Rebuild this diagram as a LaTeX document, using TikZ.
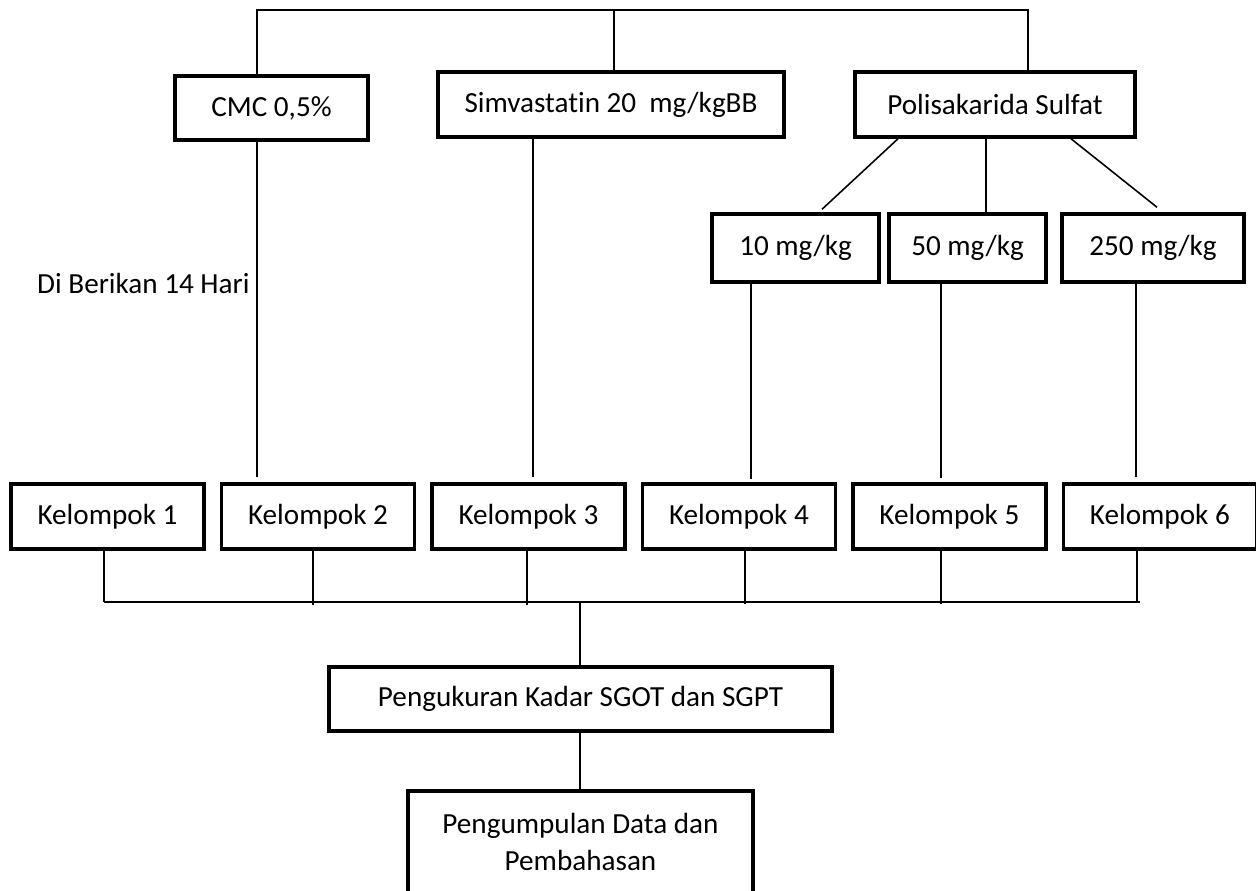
\documentclass[tikz,border=0pt]{standalone}
\usepackage{fontspec}
\setmainfont[Ligatures=NoCommon]{Carlito}
\usetikzlibrary{positioning}

\begin{document}
\begin{tikzpicture}[x=0.02cm, y=-0.02cm,
    box/.style={draw, line width=2pt, minimum height=1.3cm, inner sep=2pt,
        align=center, font=\fontsize{16.6}{21}\selectfont},
    group/.style={box, minimum width=3.86cm},
    link/.style={line width=0.9pt},
]
    \clip (0,0) rectangle (1256,890);

    % Treatments
    \node[box, minimum width=3.86cm, minimum height=1.28cm] (cmc) at (271.5,108) {CMC 0,5\%};
    \node[box, minimum width=6.92cm] (simva) at (611,104.5) {Simvastatin 20\ \ mg/kgBB};
    \node[box, minimum width=5.6cm] (polis) at (995,104.5) {Polisakarida Sulfat};

    \draw[link] (cmc.north -| 257,0) -- (257,10) -| (polis.north -| 1028,0);
    \draw[link] (614,10) -- (simva.north -| 614,0);

    % Doses
    \node[box, minimum width=3.34cm, minimum height=1.36cm] (d10) at (795.5,248) {10 mg/kg};
    \node[box, minimum width=3.14cm, minimum height=1.36cm] (d50) at (967.5,248) {50 mg/kg};
    \node[box, minimum width=3.64cm, minimum height=1.36cm] (d250) at (1153,248) {250 mg/kg};

    \draw[link] (polis.south -| 898,0) -- ([yshift=0.06cm]d10.north -| 822,0);
    \draw[link] (polis.south -| 986,0) -- (d50.north -| 986,0);
    \draw[link] (polis.south -| 1071,0) -- ([yshift=0.1cm]d250.north -| 1157,0);

    \node[anchor=west, font=\fontsize{16.6}{21}\selectfont] (note) at (31,283) {Di Berikan 14 Hari};

    % Groups
    \node[group] (k1) at (107.5,516.5) {Kelompok 1};
    \node[group, right=0.28cm of k1] (k2) {Kelompok 2};
    \node[group, right=0.28cm of k2] (k3) {Kelompok 3};
    \node[group, right=0.28cm of k3] (k4) {Kelompok 4};
    \node[group, right=0.28cm of k4] (k5) {Kelompok 5};
    \node[group, right=0.28cm of k5] (k6) {Kelompok 6};

    \draw[link] (cmc.south -| 257,0) -- ([yshift=0.1cm]k2.north -| 257,0);
    \draw[link] (simva.south -| 533,0) -- ([yshift=0.1cm]k3.north -| 533,0);
    \draw[link] (d10.south -| 751,0) -- ([yshift=0.06cm]k4.north -| 751,0);
    \draw[link] (d50.south -| 941,0) -- ([yshift=0.08cm]k5.north -| 941,0);
    \draw[link] (d250.south -| 1136,0) -- ([yshift=0.1cm]k6.north -| 1136,0);

    % Collect
    \coordinate (barL) at (104,602);
    \coordinate (barR) at (1140,602);
    \draw[link] (barL) -- (barR);
    \foreach \k/\x/\y in {1/104/602, 2/313/605, 3/527/605, 4/745/604, 5/941/604, 6/1137/602}
        \draw[link] (k\k.south -| \x,0) -- (\x,\y);

    \node[box, minimum width=10.06cm, minimum height=1.28cm] (measure) at (580.5,699) {Pengukuran Kadar SGOT dan SGPT};
    \node[box, minimum width=6.9cm, minimum height=2.04cm] (collect) at (580.5,842) {Pengumpulan Data dan\\Pembahasan};

    \draw[link] (580,602) -- (measure.north -| 580,0);
    \draw[link] (measure.south -| 580,0) -- (collect.north -| 580,0);

\end{tikzpicture}
\end{document}
